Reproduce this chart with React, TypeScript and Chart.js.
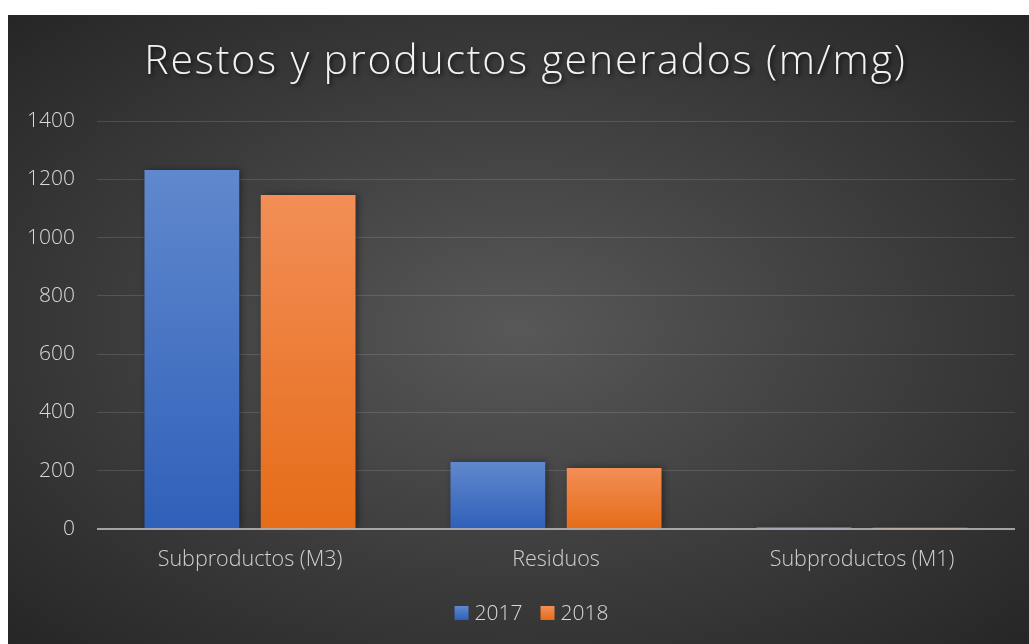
import React, { useEffect, useRef } from "react";
import { Chart, registerables } from "chart.js";

Chart.register(...registerables);

const chartTitle = "Restos y productos generados (m/mg)";
const categories = ["Subproductos (M3)", "Residuos", "Subproductos (M1)"];
const seriesNames = ["2017", "2018"];
const values2017 = [1232, 230, 6];
const values2018 = [1146, 209, 4];
const yMin = 0;
const yMax = 1400;
const yStep = 200;

const FONT = "'Open Sans', 'DejaVu Sans', sans-serif";

const BLUE = ["#6088cd", "#4672c3", "#2f60b9"];
const ORANGE = ["#f28e57", "#ee7b30", "#e66c18"];

function barGradient(top: string, mid: string, bottom: string) {
  return (ctx: any) => {
    const chart = ctx.chart;
    const y = chart.scales && chart.scales.y;
    if (!y || ctx.type !== "data" || ctx.raw == null) return mid;
    const yTop = y.getPixelForValue(ctx.raw);
    const yBase = y.getPixelForValue(0);
    if (!isFinite(yTop) || !isFinite(yBase) || Math.abs(yBase - yTop) < 1) return top;
    const g = chart.ctx.createLinearGradient(0, yTop, 0, yBase);
    g.addColorStop(0, top);
    g.addColorStop(1, bottom);
    return g;
  };
}

const shadowPlugin = {
  id: "barShadow",
  beforeDatasetsDraw(chart: any) {
    const c = chart.ctx;
    c.save();
    c.shadowColor = "rgba(0,0,0,0.45)";
    c.shadowBlur = 7;
    c.shadowOffsetX = 2;
    c.shadowOffsetY = 0;
  },
  afterDatasetsDraw(chart: any) {
    const c = chart.ctx;
    c.restore();
    const y = chart.scales.y;
    const y0 = y.getPixelForValue(0);
    c.save();
    c.strokeStyle = "rgba(192,192,192,0.8)";
    c.lineWidth = 2;
    c.beginPath();
    c.moveTo(chart.chartArea.left, y0);
    c.lineTo(chart.chartArea.right, y0);
    c.stroke();
    c.restore();
  },
};

const titlePlugin = {
  id: "customTitle",
  afterDraw(chart: any) {
    const c = chart.ctx;
    c.save();
    c.font = `300 41px ${FONT}`;
    (c as any).letterSpacing = "1.8px";
    c.textAlign = "center";
    c.textBaseline = "middle";
    c.fillStyle = "#f2f2f2";
    c.shadowColor = "rgba(0,0,0,0.7)";
    c.shadowBlur = 4;
    c.shadowOffsetX = 2;
    c.shadowOffsetY = 2;
    c.fillText(chartTitle, chart.width / 2 + 7, 47);
    c.restore();
  },
};

const legendPlugin = {
  id: "customLegend",
  afterDraw(chart: any) {
    const c = chart.ctx;
    const box = 14;
    const gap = 6;
    const itemGap = 18;
    const cy = 598;
    c.save();
    c.font = `300 21px ${FONT}`;
    c.textBaseline = "middle";
    c.textAlign = "left";
    const items = chart.data.datasets.map((ds: any, i: number) => ({
      text: ds.label as string,
      colors: i === 0 ? BLUE : ORANGE,
      w: box + gap + c.measureText(ds.label).width,
    }));
    const total = items.reduce((s: number, it: any) => s + it.w, 0) + itemGap * (items.length - 1);
    let x = chart.width / 2 + 13 - total / 2;
    items.forEach((it: any) => {
      const g = c.createLinearGradient(0, cy - box / 2, 0, cy + box / 2);
      g.addColorStop(0, it.colors[0]);
      g.addColorStop(1, it.colors[2]);
      c.fillStyle = g;
      c.fillRect(x, cy - box / 2, box, box);
      c.fillStyle = "#d9d9d9";
      c.fillText(it.text, x + box + gap, cy + 1);
      x += it.w + itemGap;
    });
    c.restore();
  },
};

export default function App() {
  const canvasRef = useRef<HTMLCanvasElement | null>(null);

  useEffect(() => {
    if (!canvasRef.current) return;
    const chart = new Chart(canvasRef.current, {
      type: "bar",
      data: {
        labels: categories,
        datasets: [
          {
            label: seriesNames[0],
            data: values2017,
            backgroundColor: barGradient(BLUE[0], BLUE[1], BLUE[2]) as any,
            borderWidth: 0,
            categoryPercentage: 0.76,
            barPercentage: 0.815,
          },
          {
            label: seriesNames[1],
            data: values2018,
            backgroundColor: barGradient(ORANGE[0], ORANGE[1], ORANGE[2]) as any,
            borderWidth: 0,
            categoryPercentage: 0.76,
            barPercentage: 0.815,
          },
        ],
      },
      options: {
        animation: false,
        responsive: true,
        maintainAspectRatio: false,
        layout: { padding: { top: 106, left: 0, right: 14, bottom: 51 } },
        plugins: {
          title: { display: false },
          tooltip: { enabled: false },
          legend: { display: false },
        },
        scales: {
          x: {
            grid: { display: false, drawTicks: false },
            border: { display: false },
            ticks: {
              color: "#d0d0d0",
              font: { family: FONT, size: 21.5, weight: 300 as any },
              padding: 18,
            },
            afterFit(scale: any) {
              scale.height = 64;
            },
          },
          y: {
            min: yMin,
            max: yMax,
            grid: {
              drawTicks: false,
              color: (c: any) => (c.tick && c.tick.value === 0 ? "rgba(0,0,0,0)" : "rgba(255,255,255,0.13)"),
              lineWidth: 1,
            },
            border: { display: false },
            ticks: {
              stepSize: yStep,
              color: "#d9d9d9",
              font: { family: FONT, size: 21, weight: 300 as any },
              padding: 22,
              callback: (v: any) => String(v),
            },
            afterFit(scale: any) {
              scale.width = 89;
            },
          },
        },
      },
      plugins: [shadowPlugin, titlePlugin, legendPlugin],
    });
    return () => chart.destroy();
  }, []);

  return (
    <div
      style={{
        position: "fixed",
        left: 8,
        top: 15,
        width: 1021,
        height: 629,
        background: "radial-gradient(ellipse at 50% 50%, #585858 0%, #3c3c3c 55%, #262626 100%)",
      }}
    >
      <canvas ref={canvasRef} />
    </div>
  );
}
